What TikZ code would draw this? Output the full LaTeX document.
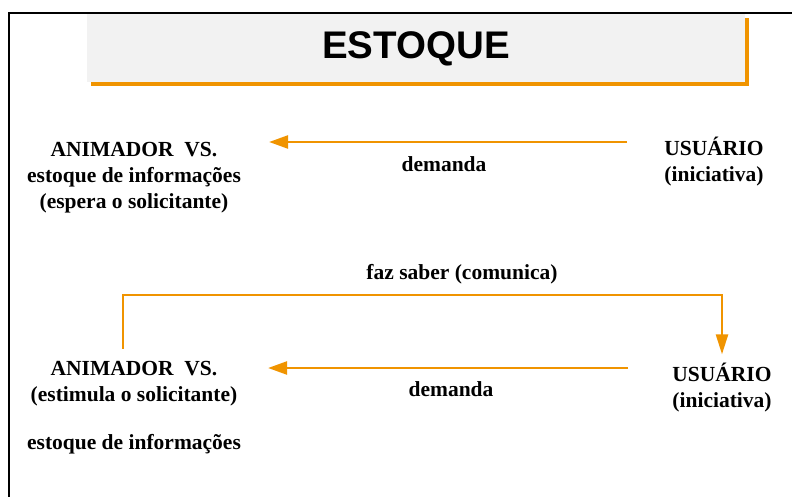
\documentclass[tikz,border=0pt]{standalone}
\usepackage{fontspec}
\setmainfont{Liberation Serif}
\newfontfamily\titlefont{Liberation Sans}
\usetikzlibrary{positioning,arrows.meta,shadows}
\definecolor{stockorange}{RGB}{240,148,0}
\definecolor{titlegray}{RGB}{242,242,242}

\begin{document}
\begin{tikzpicture}[
    x=1pt, y=-1pt,
    every node/.style={font=\fontsize{21.5}{26}\selectfont\bfseries, inner sep=0pt, align=center},
    flowarrow/.style={draw=stockorange, line width=2.5pt, -{Triangle[length=19pt,width=13pt]}},
    titlebox/.style={fill=titlegray, minimum width=658pt, minimum height=68pt, text depth=5pt,
      drop shadow={shadow xshift=4pt, shadow yshift=-4pt, fill=stockorange, opacity=1},
      font=\titlefont\fontsize{38.5}{40}\selectfont\bfseries}
  ]
  \useasboundingbox (0,0) rectangle (792,497);

  % frame
  \draw[line width=2.5pt] (9,497) -- (9,13) -- (792,13);

  \node[titlebox] (title) at (416,48) {ESTOQUE};

  % first case (base = last line)
  \node[anchor=base] (anim1) at (134,208)
    {ANIMADOR\ \ VS.\\estoque de informações\\(espera o solicitante)};
  \node[anchor=base] (usr1) at (714,182) {USUÁRIO\\(iniciativa)};
  \coordinate (row1) at (0,142);
  \draw[flowarrow] ([xshift=-37pt]usr1.west |- row1) -- ([xshift=28pt]anim1.east |- row1);
  \node[anchor=base] (dem1) at (444,172) {demanda};

  % second case
  \node[anchor=base] (anim2) at (134,449)
    {ANIMADOR\ \ VS.\\(estimula o solicitante)\\[22pt]estoque de informações};
  \node[anchor=base] (usr2) at (722,407) {USUÁRIO\\(iniciativa)};
  \coordinate (row2) at (0,368);
  \draw[flowarrow] ([xshift=-44pt]usr2.west |- row2) -- ([xshift=27pt]anim2.east |- row2);
  \node[anchor=base] (dem2) at (451,396) {demanda};

  \node[anchor=base] (faz) at (462,279) {faz saber (comunica)};
  \coordinate (bend) at (722,295);
  \draw[flowarrow, -{Triangle[length=20pt,width=12pt]}]
    ([xshift=-11pt,yshift=12pt]anim2.north) |- (bend) -- ([yshift=8pt]usr2.north);

\end{tikzpicture}
\end{document}
